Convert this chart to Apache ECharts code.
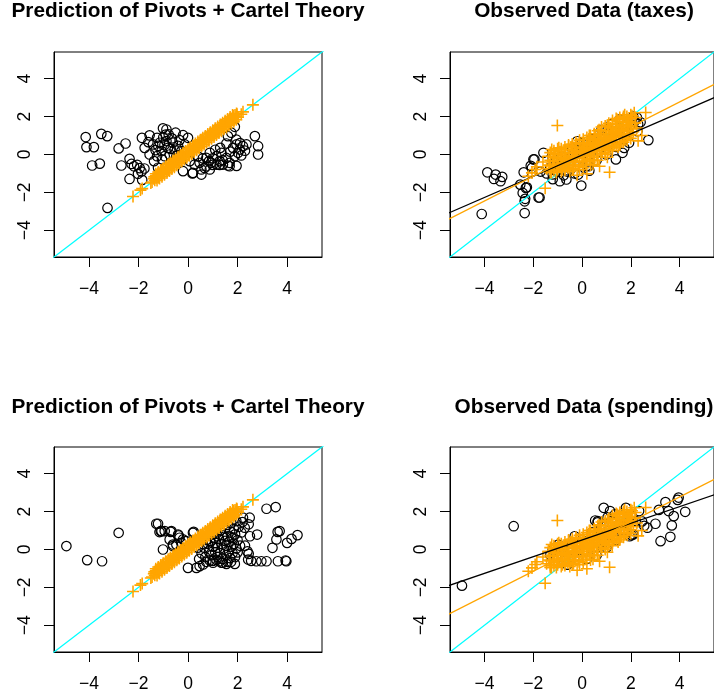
<!DOCTYPE html>
<html><head><meta charset="utf-8">
<script src="https://cdn.jsdelivr.net/npm/echarts@6/dist/echarts.min.js"></script>
<style>html,body{margin:0;padding:0;background:#fff}#c{width:714px;height:696px}</style>
</head><body><div id="c"></div>
<script>
// ---------- data ----------
const titles = ["Prediction of Pivots + Cartel Theory", "Observed Data (taxes)", "Prediction of Pivots + Cartel Theory", "Observed Data (spending)"];
const tickValues = [-4, -2, 0, 2, 4];
const axisRange = [-5.41, 5.41];

// predicted points (pivots + cartel), shared by the two left panels
const predicted = [
[-2.22,-2.22],[-1.92,-1.88],[-1.85,-1.80],[-1.50,-1.50],[-1.45,-1.45],[2.15,2.12],[2.22,2.25],[2.62,2.62],
[-1.38,-1.28],[-1.34,-1.36],[-1.30,-1.12],[-1.26,-1.21],[-1.22,-1.08],[-1.18,-1.23],[-1.14,-1.06],[-1.10,-0.90],[-1.06,-1.06],[-1.02,-0.90],
[-0.98,-0.88],[-0.94,-0.96],[-0.90,-0.72],[-0.86,-0.81],[-0.82,-0.68],[-0.78,-0.83],[-0.74,-0.66],[-0.70,-0.50],[-0.66,-0.66],[-0.62,-0.50],
[-0.58,-0.48],[-0.54,-0.56],[-0.50,-0.32],[-0.46,-0.41],[-0.42,-0.28],[-0.38,-0.43],[-0.34,-0.26],[-0.30,-0.10],[-0.26,-0.26],[-0.22,-0.10],
[-0.18,-0.08],[-0.14,-0.16],[-0.10,0.08],[-0.06,-0.01],[-0.02,0.12],[0.02,-0.03],[0.06,0.14],[0.10,0.30],[0.14,0.14],[0.18,0.30],
[0.22,0.32],[0.26,0.24],[0.30,0.48],[0.34,0.39],[0.38,0.52],[0.42,0.37],[0.46,0.54],[0.50,0.70],[0.54,0.54],[0.58,0.70],
[0.62,0.72],[0.66,0.64],[0.70,0.88],[0.74,0.79],[0.78,0.92],[0.82,0.77],[0.86,0.94],[0.90,1.10],[0.94,0.94],[0.98,1.10],
[1.02,1.12],[1.06,1.04],[1.10,1.28],[1.14,1.19],[1.18,1.32],[1.22,1.17],[1.26,1.34],[1.30,1.50],[1.34,1.34],[1.38,1.50],
[1.42,1.52],[1.46,1.44],[1.50,1.68],[1.54,1.59],[1.58,1.72],[1.62,1.57],[1.66,1.74],[1.70,1.90],[1.74,1.74],[1.78,1.90],
[1.82,1.92],[1.86,1.84],[1.90,2.08],[1.94,1.99],[1.98,2.12],[2.02,1.97],
[-1.36,-1.18],[-1.20,-1.00],[-1.04,-0.82],[-0.88,-0.64],[-0.72,-0.48],[-0.56,-0.34],[-0.40,-0.18],[-0.24,-0.02],[-0.08,0.16],[0.08,0.32],
[0.24,0.46],[0.40,0.62],[0.56,0.78],[0.72,0.94],[0.88,1.08],[1.04,1.24],[1.20,1.40],[1.36,1.56],[1.52,1.72],[1.68,1.88],[1.84,2.04],[1.96,2.16],
[-1.30,-1.02],[-1.20,-0.92],[-1.10,-0.82],[-1.00,-0.72],[-0.90,-0.62],[-0.80,-0.52],[-0.70,-0.42],[-0.60,-0.32],[-0.50,-0.22],[-0.40,-0.12],
[-0.30,-0.02],[-0.20,0.08],[-0.10,0.18],[0.00,0.28],[0.10,0.38],[0.20,0.48],[0.30,0.58],[0.40,0.68],[0.50,0.78],[0.60,0.88],
[0.70,0.98],[0.80,1.08],[0.90,1.18],[1.00,1.28],[1.10,1.38],[1.20,1.48],[1.30,1.58],[1.40,1.68],[1.50,1.78],[1.60,1.88],[1.70,1.98],[1.80,2.08],
[-1.25,-1.37],[-1.15,-1.27],[-1.05,-1.17],[-0.95,-1.07],[-0.85,-0.97],[-0.75,-0.87],[-0.65,-0.77],[-0.55,-0.67],[-0.45,-0.57],[-0.35,-0.47],
[-0.25,-0.37],[-0.15,-0.27],[-0.05,-0.17],[0.05,-0.07],[0.15,0.03],[0.25,0.13],[0.35,0.23],[0.45,0.33],[0.55,0.43],[0.65,0.53],
[0.75,0.63],[0.85,0.73],[0.95,0.83],[1.05,0.93],[1.15,1.03],[1.25,1.13],[1.35,1.23],[1.45,1.33],[1.55,1.43],[1.65,1.53],[1.75,1.63],[1.85,1.73],[1.95,1.83]
];

// observed orange points, shared by the two right panels
const observedOrange = [
[-1.01,1.53],[-1.51,-1.78],[1.13,-0.94],[0.20,-1.02],[0.72,-0.62],[0.45,-0.52],[2.30,0.72],[2.61,2.22],[2.14,2.20],
[-2.05,-0.97],[-1.85,-0.65],[-2.20,-1.15],[-1.92,-0.79],[2.45,1.00],[2.00,0.85],[-0.50,-0.90],[-0.20,-1.10],
[-1.38,-0.09],[-1.24,0.26],[-1.35,-0.55],[-1.30,-0.85],[-1.20,-0.35],[-1.15,-0.70],[-1.10,0.05],[-1.05,-0.95],[-1.00,-0.45],[-1.02,-0.20],
[-0.95,-0.60],[-0.90,0.15],[-0.85,-0.30],[-0.80,-0.80],[-0.78,-0.05],[-0.70,-0.50],[-0.66,0.25],[-0.62,-0.20],[-0.58,-0.70],[-0.55,0.05],[-0.50,-0.35],
[-0.45,0.40],[-0.40,-0.55],[-0.36,-0.10],[-0.32,0.20],[-0.28,-0.40],[-0.22,0.55],[-0.18,-0.15],[-0.12,-0.65],[-0.08,0.30],[-0.04,0.05],[0.00,-0.35],
[0.04,0.60],[0.08,-0.10],[0.12,0.25],[0.16,-0.50],[0.20,0.45],[0.24,0.05],[0.28,0.80],[0.32,-0.25],[0.36,0.35],[0.40,0.10],[0.44,0.65],[0.48,-0.05],
[0.52,0.40],[0.56,0.95],[0.60,0.20],[0.64,-0.30],[0.68,0.70],[0.72,0.35],[0.76,1.10],[0.80,0.05],[0.84,0.55],[0.88,0.90],[0.92,0.30],[0.96,1.25],[1.00,0.65],
[1.04,-0.15],[1.08,1.00],[1.12,0.45],[1.16,1.40],[1.20,0.80],[1.24,0.20],[1.28,1.15],[1.32,0.60],[1.36,1.60],[1.40,0.95],[1.44,1.30],[1.48,0.40],
[1.52,1.75],[1.56,1.05],[1.60,0.70],[1.64,1.45],[1.68,1.90],[1.72,1.20],[1.76,0.85],[1.80,1.60],[1.84,2.00],[1.88,1.35],[1.92,1.00],[1.96,1.75],[2.00,1.50],[2.05,2.05],[2.10,1.20],[2.18,1.65],
[0.10,0.50],[0.30,0.50],[0.50,0.75],[0.70,1.00],[0.90,0.60],[1.10,0.75],[1.30,0.90],[0.60,0.50],[0.80,0.80],[1.00,1.00],[1.20,1.10],[1.40,1.20],
[0.20,0.20],[0.40,0.30],[-0.20,0.10],[-0.60,-0.40],[-1.00,-0.60],[-0.30,-0.20],[1.60,1.30],[1.70,1.55],[1.50,1.10],[0.00,0.20],[-0.80,-0.50],[1.90,1.70],
[-1.45,-0.75],[-1.60,-0.40],[-1.25,-0.95],[-0.70,-0.85],[-0.35,-0.75],[0.05,-0.55],[0.35,-0.40],[0.60,-0.05],[0.95,0.10],[1.25,0.45],[1.55,0.55],[1.85,0.75],
[2.20,1.95],[1.75,2.10],[1.45,1.85],[1.05,1.55],[0.70,1.30],[0.30,1.00],[-0.10,0.75],[-0.55,0.45],[-0.95,0.35],[2.25,1.40],
[-1.30,-0.95],[-1.30,-0.60],[-1.30,-0.30],[-1.30,0.10],[-1.15,-0.85],[-1.15,-0.50],[-1.15,-0.15],[-1.15,0.20],
[-1.00,-0.80],[-1.00,-0.30],[-1.00,0.00],[-1.00,0.30],[-0.85,-0.90],[-0.85,-0.55],[-0.85,-0.15],[-0.85,0.30],
[-0.70,-0.75],[-0.70,-0.25],[-0.70,0.05],[-0.70,0.40],[-0.55,-0.60],[-0.55,-0.15],[-0.55,0.25],[-0.55,0.50],
[-0.40,-0.80],[-0.40,-0.30],[-0.40,0.10],[-0.40,0.55],[-0.25,-0.55],[-0.25,-0.05],[-0.25,0.35],[-0.25,0.65],
[-0.10,-0.80],[-0.10,-0.40],[-0.10,0.15],[-0.10,0.60],[0.05,-0.70],[0.05,-0.20],[0.05,0.40],[0.05,0.80],
[0.20,-0.35],[0.20,0.00],[0.20,0.65],[0.20,0.90],[0.35,-0.55],[0.35,0.15],[0.35,0.55],[0.35,1.00],
[0.50,-0.30],[0.50,0.25],[0.50,0.60],[0.50,1.10],[0.65,-0.15],[0.65,0.45],[0.65,0.85],[0.65,1.25],
[0.80,0.20],[0.80,0.60],[0.80,1.00],[0.80,1.45],[0.95,0.00],[0.95,0.45],[0.95,0.85],[0.95,1.50],
[1.10,0.25],[1.10,0.95],[1.10,1.25],[1.10,1.65],[1.25,0.35],[1.25,0.70],[1.25,1.45],[1.25,1.80],
[1.40,0.55],[1.40,1.05],[1.40,1.45],[1.40,1.90],[1.55,0.50],[1.55,0.90],[1.55,1.35],[1.55,1.95],
[1.70,0.65],[1.70,1.10],[1.70,1.70],[1.70,2.00],[1.85,0.90],[1.85,1.25],[1.85,1.55],[1.85,1.85],
[2.00,1.05],[2.00,1.35],[2.00,1.90],[2.00,2.10]
];

// black circles, panel 1 (prediction vs taxes)
const blackTaxesPred = [
[-4.13,0.92],[-4.10,0.39],[-3.80,0.39],[-3.50,1.09],[-3.26,0.97],[-3.87,-0.58],[-3.56,-0.48],
[-2.80,0.32],[-2.52,0.58],[-2.69,-0.58],[-2.36,-0.23],[-2.28,-0.50],[-2.18,-0.62],[-2.05,-0.55],[-1.95,-0.72],[-1.88,-0.90],[-1.76,-0.74],[-2.02,-1.02],[-2.36,-1.29],[-1.85,-1.34],[-3.25,-2.82],
[-1.86,0.88],[-1.55,1.01],[-1.25,0.88],[-1.01,1.38],[-0.78,1.06],[-0.50,1.15],[-0.20,1.02],[0.00,0.88],[-1.41,0.53],[-1.14,0.62],[-0.87,0.71],[-0.61,0.62],[-0.34,0.76],[-0.13,0.53],
[-1.75,0.35],[-1.31,0.23],[-1.07,0.18],[-0.81,0.35],[-0.54,0.26],[-0.27,0.18],[-0.94,-0.09],[-0.74,0.00],[-1.55,0.00],[-1.25,-0.09],[-0.47,-0.09],[-1.37,-0.35],[-1.21,-0.70],
[-1.00,0.90],[-0.90,1.05],[-0.65,0.85],[-1.20,0.45],[-0.95,0.50],[-0.70,0.30],[-0.40,0.45],[-1.60,0.65],[-1.05,-0.25],[-0.87,1.32],
[-0.20,-0.88],[0.20,-0.97],[0.54,-0.79],[0.67,-0.71],[0.47,-0.44],[0.27,-0.53],[0.07,-0.35],[0.74,-0.18],[0.88,0.09],[1.15,-0.09],[1.35,0.09],[1.55,-0.18],[1.68,-0.44],[1.41,-0.53],[1.15,-0.53],[0.94,-0.44],[1.28,-0.35],
[1.89,-0.09],[2.09,0.26],[2.22,0.44],[2.36,0.53],[1.96,0.53],[1.82,0.35],[1.75,1.15],[1.95,0.79],[2.70,0.97],[2.83,0.44],[2.83,0.00],[2.02,0.09],[1.55,0.58],[1.68,-0.62],[0.74,-0.62],[0.88,-0.79],
[1.00,-0.55],[1.28,-0.55],[1.61,-0.58],[1.96,-0.60],[0.54,-1.06],[0.18,-1.00],[1.89,1.46],[1.61,0.97],[1.30,0.35],[1.10,0.25],[0.60,-0.20],[0.40,-0.10],[2.10,0.60],[2.30,0.20],[1.40,-0.30],[1.00,-0.20],[0.85,-0.35],[1.70,0.15],[2.15,-0.05]
];

// black circles, panel 2 (observed taxes)
const blackTaxesObs = [
[-3.88,-0.94],[-3.54,-1.06],[-3.27,-1.18],[-3.61,-1.29],[-3.34,-1.41],[-4.11,-3.14],[-2.39,-0.94],[-2.53,-1.59],[-2.30,-1.76],[-2.35,-2.47],[-1.78,-2.27],[-1.74,-2.27],[-2.35,-3.09],
[-2.43,-2.03],[-2.33,-2.34],[-2.26,-1.73],[-1.95,-0.26],[-1.58,0.09],[-1.99,-0.26],[-2.05,-0.71],[-0.91,-1.41],[-0.64,-1.32],[-0.03,-1.64],[-1.04,-0.88],[-2.10,-0.60],[-1.70,-0.90],[-1.45,-1.00],[-1.20,-1.05],[-0.30,-1.00],[-0.16,-1.06],[0.27,-0.62],
[1.39,-0.26],[1.66,0.09],[1.73,0.35],[1.93,0.62],[2.72,0.76],[2.00,1.90],[2.15,1.75],[2.25,1.95],[2.30,1.60],[2.27,1.23],[1.90,1.20],[2.10,2.00],[2.40,1.70],
[-1.30,-0.70],[-1.10,-0.40],[-0.90,-0.60],[-0.70,-0.30],[-0.50,-0.50],[-0.30,0.10],[-0.10,-0.20],[0.10,0.30],[0.30,0.00],[0.50,0.50],[0.70,0.20],[0.90,0.90],[1.10,0.60],[1.30,1.20],[1.50,0.80],[1.70,1.50],
[1.20,1.60],[0.80,1.30],[0.40,0.80],[0.00,0.60],[-0.40,0.30],[-0.80,-0.10],[-1.20,-0.20],[0.60,-0.30],[1.00,0.00],[1.40,0.40],[1.80,1.00],[-0.60,-0.90],[0.20,-0.60],[-0.20,0.70],[0.55,0.85],[1.05,1.30],[1.55,1.85],[1.75,1.30],[-1.20,-1.30],[-0.75,-1.10],[0.30,-0.85],[-0.45,-0.15]
];

// black circles, panel 3 (prediction vs spending)
const blackSpendPred = [
[-4.91,0.18],[-4.07,-0.56],[-3.47,-0.62],[-2.80,0.88],[-1.21,1.36],[-1.10,0.97],[-1.15,0.92],[-1.01,0.00],[-0.74,0.53],[-0.67,0.97],[0.23,0.93],[0.00,-0.97],
[-0.40,0.79],[-0.34,0.62],[-0.47,0.26],[-0.61,0.18],[-0.20,0.53],[-0.07,0.44],[-0.27,0.35],[-0.94,0.97],[-1.28,1.36],[-1.07,0.97],[-0.70,0.93],[-0.38,0.74],[0.20,0.88],[-0.61,0.26],
[0.34,-0.97],[0.47,-0.88],[0.61,-0.79],[0.74,-0.65],[0.88,-0.58],[1.01,-0.70],[1.15,-0.55],[1.28,-0.62],[1.41,-0.70],[1.55,-0.76],[1.74,-0.65],[1.89,-0.76],
[0.55,-0.20],[0.65,0.10],[0.70,-0.40],[0.80,0.30],[0.85,-0.10],[0.90,0.45],[0.95,-0.30],[1.00,0.15],[1.05,0.60],[1.10,-0.15],[1.10,0.35],[1.15,0.85],[1.20,-0.40],[1.20,0.10],[1.25,0.55],
[1.30,1.00],[1.30,-0.20],[1.35,0.30],[1.40,0.75],[1.40,-0.50],[1.45,0.05],[1.50,1.10],[1.50,0.45],[1.55,-0.30],[1.55,0.20],[1.60,0.70],[1.60,1.30],[1.65,-0.10],[1.65,0.40],[1.70,0.95],
[1.70,-0.45],[1.75,0.15],[1.75,1.40],[1.80,0.60],[1.80,-0.20],[1.85,1.10],[1.85,0.30],[1.90,0.80],[1.90,-0.40],[1.95,0.05],[1.95,1.50],[2.00,0.50],[2.00,-0.15],[2.05,1.20],[2.10,0.20],
[0.75,0.50],[1.00,0.80],[0.60,0.30],[1.25,1.30],[1.45,1.55],[0.45,-0.50],[0.40,0.10],[1.00,-0.60],[1.35,-0.70],[1.60,-0.65],[1.20,0.70],[1.75,0.65],
[2.22,1.68],[2.49,1.68],[2.45,1.33],[2.29,1.15],[2.79,0.79],[3.17,2.15],[3.54,2.24],[3.70,0.97],[3.62,0.93],[3.57,0.53],[3.41,0.09],[4.00,0.35],[4.18,0.56],[4.42,0.76],
[2.45,-0.23],[2.43,-0.53],[2.55,-0.60],[2.76,-0.62],[2.96,-0.62],[3.17,-0.62],[3.63,-0.62],[3.94,-0.58],[3.97,-0.62],[2.50,0.70],[2.30,0.20],[2.15,0.90],[2.40,-0.10],[2.20,1.45]
];

// black circles, panel 4 (observed spending)
const blackSpendObs = [
[-2.80,1.23],[-4.92,-1.91],[0.89,2.20],[1.80,2.20],[2.34,2.03],[2.68,1.15],[2.46,1.48],[3.01,1.36],[3.22,0.44],[3.62,0.67],[3.42,2.50],[3.55,2.03],[3.96,2.74],[3.92,2.62],[4.23,1.99],[3.76,1.76],[3.68,1.27],[3.15,2.09],
[2.55,1.25],[2.20,1.50],[2.10,0.80],[1.95,0.70],
[-1.30,-0.30],[-1.10,-0.60],[-0.90,-0.20],[-0.70,-0.50],[-0.50,0.00],[-0.30,-0.40],[-0.10,0.20],[0.10,-0.10],[0.30,0.40],[0.50,0.10],[0.70,0.70],[0.90,0.40],[1.10,1.00],[1.30,0.70],[1.50,1.30],[1.70,1.00],[1.90,1.60],
[1.20,1.50],[0.80,1.20],[0.40,0.90],[0.00,0.50],[-0.40,0.30],[-0.80,0.10],[-1.20,0.00],[0.60,-0.30],[1.00,0.10],[1.40,0.50],[1.80,0.90],[-0.60,-0.80],[0.20,-0.50],[1.60,1.70],[1.05,1.70],[0.65,1.50],
[-0.97,0.26],[-0.30,0.70],[0.54,1.53],[0.64,1.43],[1.15,2.03],[2.00,1.80],[2.03,0.76],[1.35,1.85]
];

// fitted lines [intercept, slope]
const diagonal = [0, 1];
const fitTaxesBlack = [-0.03, 0.56];
const fitTaxesOrange = [0.16, 0.653];
const fitSpendBlack = [0.50, 0.44];
const fitSpendOrange = [0.16, 0.653];
const lineSpan = [-6, 6];

// ---------- chart ----------
const FONT = "'Liberation Sans', Arial, Helvetica, sans-serif";
const ORANGE = '#FFA500', CYAN = '#00FFFF';
const PLUS = 'path://M4.35,0H5.65V4.35H10V5.65H5.65V10H4.35V5.65H0V4.35H4.35Z';
const grids = [
  {left: 54, top: 52, width: 268, height: 205},
  {left: 450, top: 52, width: 268, height: 205},
  {left: 54, top: 447, width: 268, height: 205},
  {left: 450, top: 447, width: 268, height: 205}
];
const titleTops = [1, 1, 397, 397];
const fmt = v => v < 0 ? '\u2212' + Math.abs(v) : String(v);

function axis(gi, isY) {
  return {
    type: 'value', gridIndex: gi, min: axisRange[0], max: axisRange[1],
    axisLine: {show: true, onZero: false, lineStyle: {color: '#000', width: 1}},
    splitLine: {show: false},
    axisTick: {show: true, inside: false, length: 10, customValues: tickValues, lineStyle: {color: '#000', width: 1}},
    axisLabel: {customValues: tickValues, margin: isY ? 20 : 23, rotate: isY ? 90 : 0, fontSize: 17.5,
      fontFamily: FONT, color: '#000', formatter: fmt}
  };
}
function lineData(coef) {
  return lineSpan.map(x => [x, coef[0] + coef[1] * x]);
}
function lineSeries(gi, coef, color, z) {
  return {type: 'line', xAxisIndex: gi, yAxisIndex: gi, data: lineData(coef), symbol: 'none', clip: true,
    silent: true, lineStyle: {color: color, width: 1.3}, z: z};
}
function circles(gi, data) {
  return {type: 'scatter', xAxisIndex: gi, yAxisIndex: gi, data: data, symbol: 'circle', symbolSize: 9.5,
    itemStyle: {color: 'rgba(0,0,0,0)', borderColor: '#000', borderWidth: 1.2, opacity: 1}, z: 2, silent: true};
}
function crosses(gi, data) {
  return {type: 'scatter', xAxisIndex: gi, yAxisIndex: gi, data: data, symbol: PLUS, symbolSize: 12,
    itemStyle: {color: ORANGE, opacity: 1}, z: 4, silent: true, large: false};
}

const blacks = [blackTaxesPred, blackTaxesObs, blackSpendPred, blackSpendObs];
const oranges = [predicted, observedOrange, predicted, observedOrange];
const series = [];
for (let i = 0; i < 4; i++) {
  series.push(circles(i, blacks[i]));
  series.push(crosses(i, oranges[i]));
  series.push(lineSeries(i, diagonal, CYAN, 3));
}
series.push(lineSeries(1, fitTaxesBlack, '#000', 5));
series.push(lineSeries(1, fitTaxesOrange, ORANGE, 5));
series.push(lineSeries(3, fitSpendBlack, '#000', 5));
series.push(lineSeries(3, fitSpendOrange, ORANGE, 5));

const chart = echarts.init(document.getElementById('c'), null, {renderer: 'canvas'});
chart.setOption({
  animation: false,
  backgroundColor: '#fff',
  title: titles.map((t, i) => ({
    text: t, left: grids[i].left + 134, top: titleTops[i], textAlign: 'center', padding: 0,
    textStyle: {fontSize: 20.8, fontWeight: 'bold', fontFamily: FONT, color: '#000'}
  })),
  grid: grids.map(g => Object.assign({show: true, borderColor: '#000', borderWidth: 1, backgroundColor: 'transparent'}, g)),
  xAxis: grids.map((g, i) => axis(i, false)),
  yAxis: grids.map((g, i) => axis(i, true)),
  series: series
});
</script></body></html>
